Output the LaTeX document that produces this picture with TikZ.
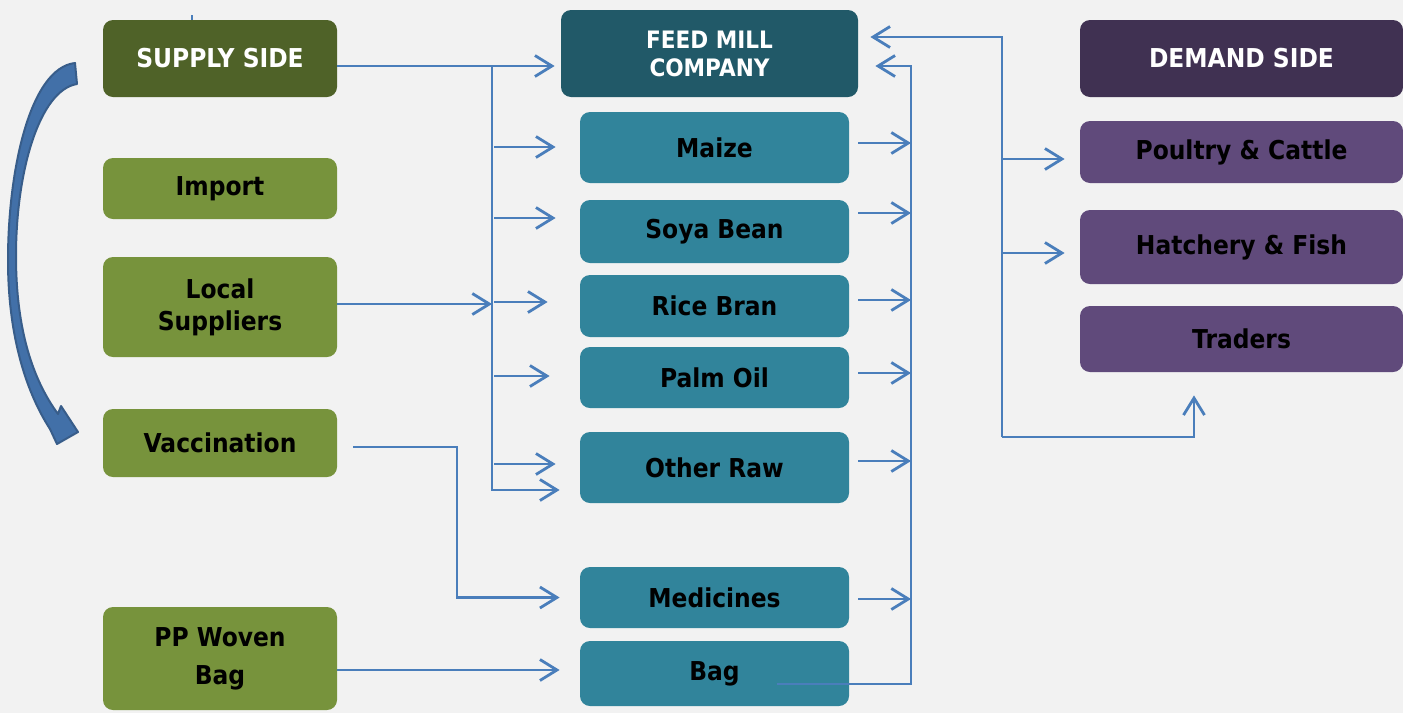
\documentclass[tikz,border=0pt]{standalone}
\usepackage{fontspec}
\setmainfont{DejaVu Sans}[FakeStretch=0.9]
\usetikzlibrary{arrows.meta}

\definecolor{pagegray}{HTML}{F2F2F2}
\definecolor{supplydark}{HTML}{4F6228}
\definecolor{supplylight}{HTML}{77933C}
\definecolor{milldark}{HTML}{215968}
\definecolor{milllight}{HTML}{31849B}
\definecolor{demanddark}{HTML}{403152}
\definecolor{demandlight}{HTML}{604A7B}
\definecolor{linkblue}{HTML}{4A7EBB}
\definecolor{bendfill}{HTML}{4270A8}
\definecolor{bendline}{HTML}{385D8A}

\begin{document}
\begin{tikzpicture}
  [
    % one unit is one pixel of the original slide
    x = 0.5pt, y = -0.5pt,
    panel/.style      = {shape=rectangle, rounded corners=5pt,
                         align=center, inner sep=2pt},
    supplyhead/.style = {panel, fill=supplydark, text=white,
                         minimum width=117pt},
    supplybox/.style  = {panel, fill=supplylight, minimum width=117pt},
    millhead/.style   = {panel, fill=milldark, text=white,
                         minimum width=148.5pt, minimum height=43.5pt},
    millbox/.style    = {panel, fill=milllight, minimum width=134.5pt},
    demandhead/.style = {panel, fill=demanddark, text=white,
                         minimum width=161.5pt},
    demandbox/.style  = {panel, fill=demandlight, minimum width=161.5pt},
    wire/.style       = {draw=linkblue, line width=1.4pt},
    link/.style       = {wire, -{Straight Barb[length=8.5pt,width=10.5pt]}},
    every node/.style = {font=\bfseries\fontsize{13}{14}\selectfont}
  ]
  \useasboundingbox (0,0) rectangle (1403,713);
  \fill [pagegray] (0,0) rectangle (1403,713);

  % supply side
  \node [supplyhead, minimum height=38.5pt] (supply) at (220,58.5) {SUPPLY SIDE};
  \node [supplybox, minimum height=30.5pt] (import) at (220,188.5) {Import};
  \node [supplybox, minimum height=50pt,
         font=\bfseries\fontsize{13}{16}\selectfont] (local) at (220,307) {Local\\Suppliers};
  \node [supplybox, minimum height=34pt] (vacc) at (220,443) {Vaccination};
  \node [supplybox, minimum height=51.5pt,
         font=\bfseries\fontsize{13}{19}\selectfont] (ppbag) at (220,658.5) {PP Woven\\Bag};

  % feed mill and its inputs
  \node [millhead, font=\bfseries\fontsize{12}{14}\selectfont] (mill) at (709.5,53.5) {FEED MILL\\COMPANY};
  \node [millbox, minimum height=35.5pt] (maize) at (714.5,147.5) {Maize};
  \node [millbox, minimum height=31.5pt] (soya) at (714.5,231.5) {Soya Bean};
  \node [millbox, minimum height=31pt] (rice) at (714.5,306) {Rice Bran};
  \node [millbox, minimum height=30.5pt] (palm) at (714.5,377.5) {Palm Oil};
  \node [millbox, minimum height=35.5pt] (other) at (714.5,467.5) {Other Raw};
  \node [millbox, minimum height=30.5pt] (medicines) at (714.5,597.5) {Medicines};
  \node [millbox, minimum height=32.5pt] (bag) at (714.5,673.5) {Bag};

  % demand side
  \node [demandhead, minimum height=38.5pt] (demand) at (1241.5,58.5) {DEMAND SIDE};
  \node [demandbox, minimum height=31pt] (poultry) at (1241.5,152) {Poultry \& Cattle};
  \node [demandbox, minimum height=37pt] (hatchery) at (1241.5,247) {Hatchery \& Fish};
  \node [demandbox, minimum height=33pt] (traders) at (1241.5,339) {Traders};

  \coordinate (lt) at (492,66);
  \coordinate (lb) at (492,490);
  \coordinate (vk) at (457,447);
  \coordinate (rt) at (911,66);
  \coordinate (rb) at (911,684);
  \coordinate (dt) at (1002,37);
  \coordinate (db) at (1002,437);

  % left trunk
  \draw [wire] ([xshift=-14pt]supply.north) -- ++(0,-5);
  \draw [link, shorten >=3pt] (supply.east |- lt) -- (mill.west |- lt);
  \draw [link, shorten >=10pt] (lt) -- (lb) -- (other.west |- lb);
  \foreach \n/\y/\s in {maize/147/12pt, soya/218/12pt, rice/302/16pt,
                        palm/376/15pt, other/464/12pt}
    \draw [link, shorten <=1pt, shorten >=\s] (lt |- 0,\y) -- (\n.west |- 0,\y);
  \draw [link] (local.east |- 0,304) -- (lt |- 0,304);
  \draw [link, shorten <=8pt, shorten >=10pt] (vacc.east |- vk) -- (vk) |- (medicines.west);
  \draw [link, shorten >=10pt] (ppbag.east |- 0,670) -- (bag.west |- 0,670);

  % right trunk back into the mill
  \draw [link, shorten >=8.5pt] ([xshift=-36pt]bag.east |- rb) -- (rb) -- (rt) -- (mill.east |- rt);
  \foreach \n/\y in {maize/143, soya/213, rice/300, palm/373, other/461, medicines/599}
    \draw [link, shorten <=4.5pt] (\n.east |- 0,\y) -- (rt |- 0,\y);

  % demand trunk
  \draw [link, shorten >=6pt] (db) -- (dt) -- (mill.east |- dt);
  \draw [link, shorten >=7.5pt] (dt |- 0,159) -- (poultry.west |- 0,159);
  \draw [link, shorten >=7.5pt] (dt |- 0,253) -- (hatchery.west |- 0,253);
  \draw [link, shorten >=11.5pt] (db) -| ([xshift=-23.75pt]traders.south);

  % bent block arrow on the far left
  \filldraw [fill=bendfill, draw=bendline, line width=1pt, line join=round]
    (75,63) .. controls (30,68) and (8,170) .. (8,260)
            .. controls (8,340) and (28,395) .. (50,429)
    -- (57,444) -- (78,432) -- (61,406) -- (58,414)
            .. controls (33,380) and (16,330) .. (16,256)
            .. controls (16,170) and (40,90) .. (77,84) -- cycle;
\end{tikzpicture}
\end{document}
